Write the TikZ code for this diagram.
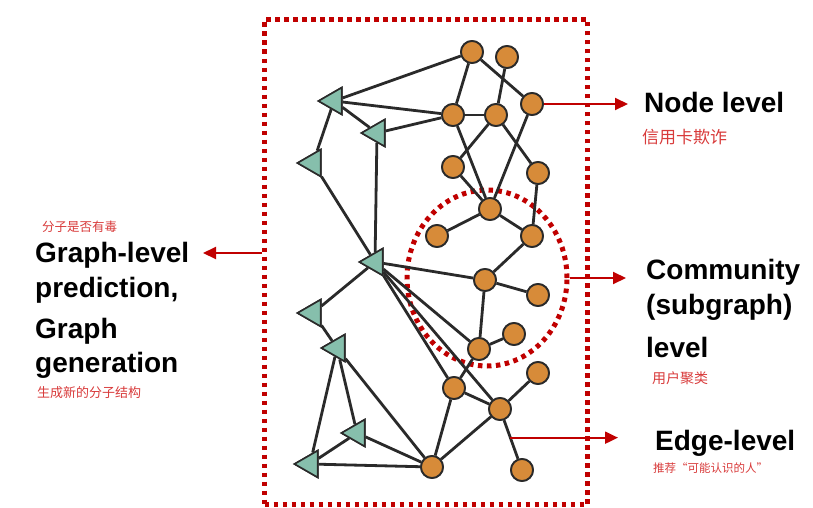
\documentclass[tikz,border=0pt]{standalone}
\usepackage{fontspec}
\setmainfont{Liberation Sans}
\newfontfamily\cjk{Noto Sans CJK SC}
\usetikzlibrary{shapes.geometric,arrows.meta,calc}
\definecolor{framered}{HTML}{C00000}
\definecolor{orangefill}{HTML}{D78B39}
\definecolor{tealfill}{HTML}{86BFAC}
\definecolor{edgegray}{HTML}{2A2A2A}
\definecolor{notered}{HTML}{D83A3A}
\tikzset{
  onode/.style={circle,draw=edgegray,line width=1.8pt,fill=orangefill,minimum size=22pt,inner sep=0pt},
  tnode/.style={regular polygon,regular polygon sides=3,shape border rotate=90,draw=edgegray,line width=1.6pt,fill=tealfill,minimum size=31pt,inner sep=0pt},
  gedge/.style={draw=edgegray,line width=2.8pt},
  dotline/.style={draw=framered,line width=5pt,dash pattern=on 4.5pt off 4.5pt},
  redarrow/.style={draw=framered,line width=2pt,-{Triangle[length=13pt,width=12pt]}},
  biglabel/.style={anchor=base west,inner sep=0pt,font=\fontsize{28}{32}\selectfont\bfseries},
  note/.style={inner sep=0pt,text=notered}
}
\begin{document}
\begin{tikzpicture}[x=1pt,y=-1pt]
\useasboundingbox (0,0) rectangle (813,508);
% frame
\node[dotline,minimum width=323pt,minimum height=485pt,inner sep=0pt,anchor=north west] (frame) at (262,17) {};
\node[dotline,ellipse,minimum width=160pt,minimum height=176pt,inner sep=0pt] (comm) at (487,278) {};
% orange nodes
\node[onode] (A) at (472,52) {};
\node[onode] (B) at (507,57) {};
\node[onode] (C) at (532,104) {};
\node[onode] (D) at (453,115) {};
\node[onode] (E) at (496,115) {};
\node[onode] (F) at (453,167) {};
\node[onode] (G) at (538,173) {};
\node[onode] (H) at (490,209) {};
\node[onode] (I) at (437,236) {};
\node[onode] (J) at (532,236) {};
\node[onode] (K) at (485,280) {};
\node[onode] (L) at (538,295) {};
\node[onode] (M) at (514,334) {};
\node[onode] (N) at (479,349) {};
\node[onode] (O) at (538,373) {};
\node[onode] (P) at (454,388) {};
\node[onode] (Q) at (500,409) {};
\node[onode] (R) at (432,467) {};
\node[onode] (S) at (522,470) {};
% triangles
\node[tnode] (T1) at (334,101) {};
\node[tnode] (T2) at (377,133) {};
\node[tnode] (T3) at (313,163) {};
\node[tnode] (T4) at (375,262) {};
\node[tnode] (T5) at (313,313) {};
\node[tnode] (T6) at (337,348) {};
\node[tnode] (T7) at (357,433) {};
\node[tnode] (T8) at (310,464) {};
% edges
\foreach \a/\b in {A/T1,A/D,A/C,B/E,D/T1,D/T2,D/E,D/H,E/F,E/G,C/H,F/H,G/J,H/I,H/J,
  T1/T2,T1/T3,T2/T4,T3/T4,J/K,T4/K,K/L,K/N,N/M,T4/N,T4/Q,T4/P,T4/T5,T5/T6,T6/R,
  T6/T7,T6/T8,T7/T8,T7/R,T8/R,P/N,P/Q,P/R,Q/R,Q/O,Q/S}
  \draw[gedge] (\a) -- (\b);
% redraw nodes on top
\foreach \p in {{472,52},{507,57},{532,104},{453,115},{496,115},{453,167},{538,173},{490,209},{437,236},{532,236},{485,280},{538,295},{514,334},{479,349},{538,373},{454,388},{500,409},{432,467},{522,470}}
  \node[onode] at (\p) {};
\foreach \p in {{334,101},{377,133},{313,163},{375,262},{313,313},{337,348},{357,433},{310,464}}
  \node[tnode] at (\p) {};
% arrows
\coordinate (nodeTip) at (628,104);
\draw[redarrow] (C.east) -- (C.east -| nodeTip);
\coordinate (commTip) at (626,279);
\draw[redarrow] (comm.east) -- (comm.east -| commTip);
\coordinate (eQS) at ($(Q)!0.47!(S)$);
\coordinate (edgeTip) at (618,438);
\draw[redarrow] (eQS) -- (eQS -| edgeTip);
\coordinate (gStart) at (262,253);
\coordinate (gTip) at (203,253);
\draw[redarrow] (gStart) -- (gTip);
% labels
\node[biglabel] (nl) at (644,113) {Node level};
\node[note,anchor=west,font=\fontsize{17}{17}\cjk] (nlc) at (642,137) {信用卡欺诈};
\node[biglabel] (gl1) at (35,262) {Graph-level};
\node[biglabel] (gl2) at (35,297) {prediction,};
\node[biglabel] (gl3) at (35,338) {Graph};
\node[biglabel] (gl4) at (35,372) {generation};
\node[note,anchor=west,font=\fontsize{12.5}{13}\cjk] (glc1) at (42,227) {分子是否有毒};
\node[note,anchor=west,font=\fontsize{13}{13}\cjk] (glc2) at (37,393) {生成新的分子结构};
\node[biglabel] (cl1) at (646,279) {Community};
\node[biglabel] (cl2) at (646,314) {(subgraph)};
\node[biglabel] (cl3) at (646,357) {level};
\node[note,anchor=west,font=\fontsize{14}{14}\cjk] (clc) at (652,378) {用户聚类};
\node[biglabel] (el) at (655,450) {Edge-level};
\node[note,anchor=west,font=\fontsize{11.5}{12}\cjk] (elc) at (653,468) {推荐“可能认识的人”};
\end{tikzpicture}
\end{document}
